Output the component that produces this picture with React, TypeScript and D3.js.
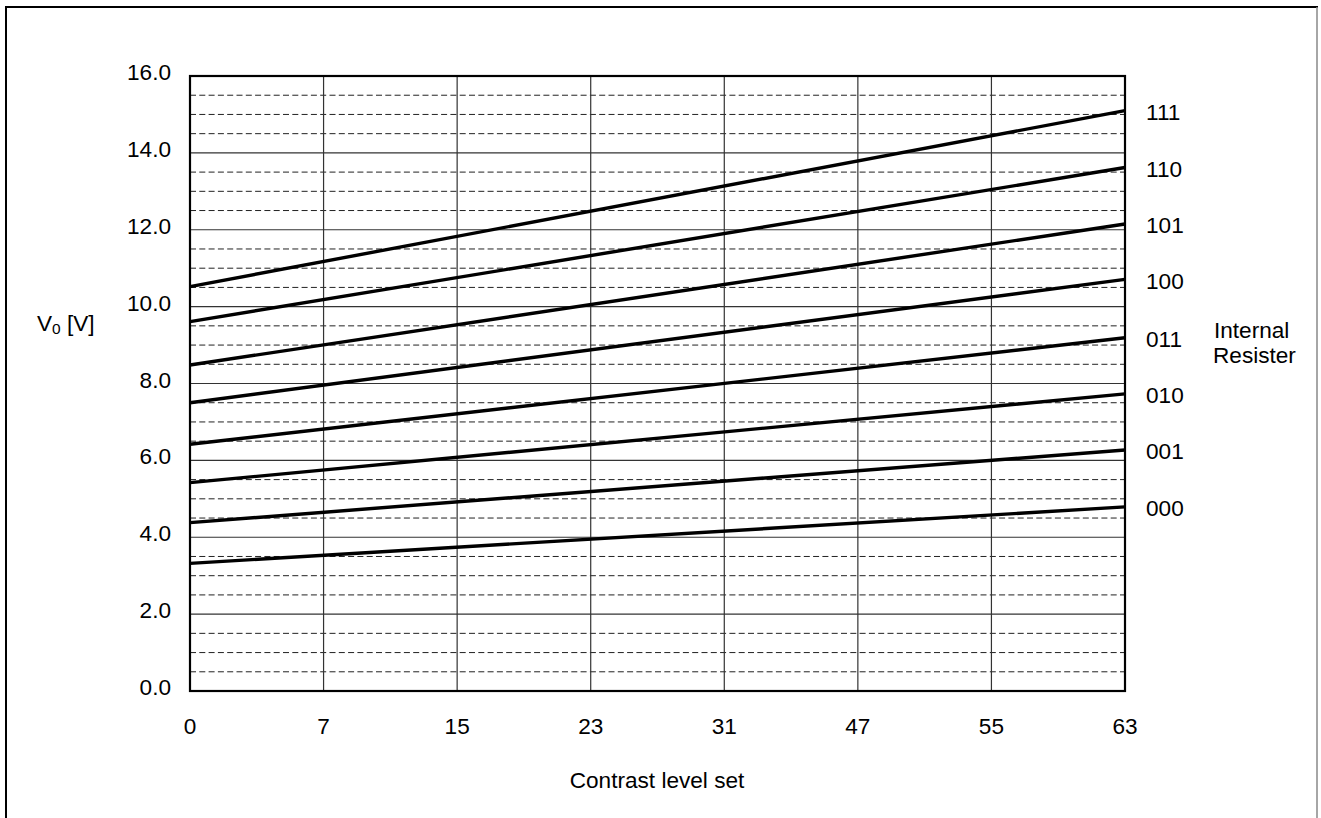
import React from "react";
import * as d3 from "d3";

const categories = ["0", "7", "15", "23", "31", "47", "55", "63"];
const registerLabels = ["111", "110", "101", "100", "011", "010", "001", "000"];
const v0AtLevel0 = [10.52, 9.61, 8.48, 7.5, 6.42, 5.42, 4.38, 3.32];
const v0AtLevel63 = [15.1, 13.62, 12.15, 10.71, 9.19, 7.73, 6.27, 4.79];
const yTicks = [0, 2, 4, 6, 8, 10, 12, 14, 16];
const yMinorTicks = d3.range(0.5, 16, 0.5).filter((v) => v % 2 !== 0);

const W = 1321;
const H = 818;
const FONT = "'Liberation Sans', Arial, sans-serif";
const FS = 22.6;

export default function App() {
  const left = 190, right = 1125, top = 76, bottom = 691;
  const x = d3.scalePoint<string>().domain(categories).range([left, right]);
  const y = d3.scaleLinear().domain([0, 16]).range([bottom, top]);
  const line = d3
    .line<{ c: string; v: number }>()
    .x((d) => x(d.c) as number)
    .y((d) => y(d.v));

  const series = registerLabels.map((lab, i) => ({
    lab,
    pts: [
      { c: categories[0], v: v0AtLevel0[i] },
      { c: categories[categories.length - 1], v: v0AtLevel63[i] },
    ],
  }));

  return (
    <svg
      width={W}
      height={H}
      style={{ position: "absolute", left: 0, top: 0, background: "#fff" }}
      fontFamily={FONT}
    >
      <rect x={0} y={0} width={W} height={H} fill="#fff" />
      {/* outer border */}
      <line x1={6} y1={7} x2={6} y2={H} stroke="#000" strokeWidth={2} />
      <line x1={5} y1={7} x2={1318} y2={7} stroke="#000" strokeWidth={2} />
      <line x1={1317} y1={7} x2={1317} y2={H} stroke="#888" strokeWidth={1.5} />

      {/* minor dashed gridlines */}
      {yMinorTicks.map((v) => (
        <line
          key={"m" + v}
          x1={left}
          x2={right}
          y1={y(v)}
          y2={y(v)}
          stroke="#222"
          strokeWidth={1}
          strokeDasharray="6,3.3"
        />
      ))}
      {/* major gridlines */}
      {yTicks.slice(1, -1).map((v) => (
        <line
          key={"M" + v}
          x1={left}
          x2={right}
          y1={y(v)}
          y2={y(v)}
          stroke="#333"
          strokeWidth={1.2}
        />
      ))}
      {categories.slice(1, -1).map((c) => (
        <line
          key={"v" + c}
          x1={x(c)}
          x2={x(c)}
          y1={top}
          y2={bottom}
          stroke="#333"
          strokeWidth={1.2}
        />
      ))}

      {/* data lines */}
      {series.map((s) => (
        <path
          key={s.lab}
          d={line(s.pts) as string}
          fill="none"
          stroke="#000"
          strokeWidth={3.4}
        />
      ))}

      {/* plot frame */}
      <rect
        x={left}
        y={top}
        width={right - left}
        height={bottom - top}
        fill="none"
        stroke="#000"
        strokeWidth={2.2}
      />

      {/* y tick labels */}
      {yTicks.map((v) => (
        <text
          key={"yt" + v}
          x={171}
          y={y(v) - 3.5}
          textAnchor="end"
          dominantBaseline="central"
          fontSize={FS}
          fill="#000"
        >
          {v.toFixed(1)}
        </text>
      ))}

      {/* x tick labels */}
      {categories.map((c) => (
        <text
          key={"xt" + c}
          x={x(c)}
          y={734}
          textAnchor="middle"
          fontSize={FS}
          fill="#000"
        >
          {c}
        </text>
      ))}

      {/* series labels */}
      {series.map((s) => (
        <text
          key={"l" + s.lab}
          x={1146}
          y={y(s.pts[1].v) + 2}
          dominantBaseline="central"
          fontSize={FS}
          fill="#000"
        >
          {s.lab}
        </text>
      ))}

      {/* axis titles */}
      <text x={657} y={788} textAnchor="middle" fontSize={FS} fill="#000">
        Contrast level set
      </text>
      <text x={37} y={331} fontSize={FS} fill="#000">
        V
        <tspan fontSize={15.5} dy={3}>0</tspan>
        <tspan dy={-3}> [V]</tspan>
      </text>
      <text x={1214} y={338} fontSize={FS} fill="#000">
        Internal
      </text>
      <text x={1213} y={363} fontSize={FS} fill="#000">
        Resister
      </text>
    </svg>
  );
}
